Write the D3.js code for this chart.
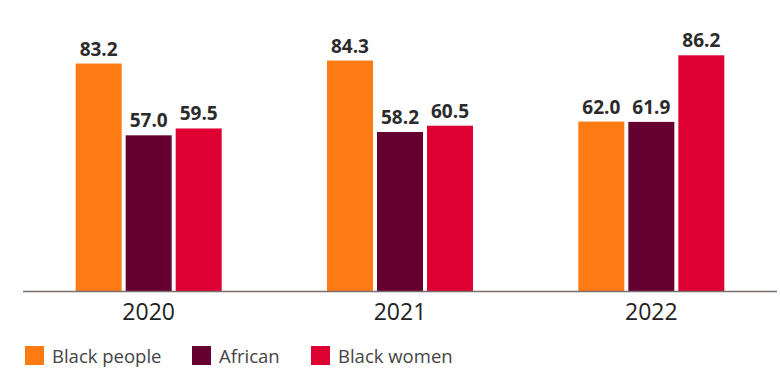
<!DOCTYPE html>
<html>
<head>
<meta charset="utf-8">
<script src="https://cdn.jsdelivr.net/npm/d3@7"></script>
<style>
  html, body { margin: 0; padding: 0; background: #fff; }
  svg { display: block; font-family: "Open Sans", "Noto Sans", sans-serif; }
</style>
</head>
<body>
<svg id="chart" width="780" height="368"></svg>
<script>
// Years on the x axis and the three series shown in each group
const years = ["2020", "2021", "2022"];
const seriesNames = ["Black people", "African", "Black women"];
const blackPeople = [83.2, 84.3, 62.0];
const african = [57.0, 58.2, 61.9];
const blackWomen = [59.5, 60.5, 86.2];
const colors = ["#fe7a12", "#650030", "#de0032"];

const seriesValues = [blackPeople, african, blackWomen];
const rows = years.map((y, i) => ({
  year: y,
  values: seriesNames.map((name, s) => ({ name, s, value: seriesValues[s][i] }))
}));

const svg = d3.select("#chart");
const baseY = 291.5;

const x0 = d3.scaleBand()
  .domain(years)
  .range([23, 777])
  .paddingInner(0.419)
  .paddingOuter(0.2095);

const x1 = d3.scaleBand()
  .domain(seriesNames)
  .range([0, x0.bandwidth()])
  .paddingInner(0.08)
  .paddingOuter(0);

const y = d3.scaleLinear()
  .domain([0, 100])
  .range([baseY, baseY - 274]);

const groups = svg.append("g")
  .selectAll("g")
  .data(rows)
  .join("g")
  .attr("transform", d => `translate(${x0(d.year)},0)`);

groups.selectAll("rect")
  .data(d => d.values)
  .join("rect")
  .attr("x", d => x1(d.name))
  .attr("y", d => y(d.value))
  .attr("width", x1.bandwidth())
  .attr("height", d => y(0) - y(d.value))
  .attr("fill", d => colors[d.s]);

groups.selectAll("text")
  .data(d => d.values)
  .join("text")
  .attr("x", d => x1(d.name) + x1.bandwidth() / 2)
  .attr("y", d => y(d.value) - 8)
  .attr("text-anchor", "middle")
  .attr("font-size", 19)
  .attr("font-weight", 700)
  .attr("fill", "#2b2b2b")
  .text(d => d.value.toFixed(1));

// x axis: a plain baseline with year labels underneath
const xAxis = d3.axisBottom(x0).tickSize(0).tickPadding(12);
const axisG = svg.append("g")
  .attr("transform", `translate(0,${baseY})`)
  .call(xAxis);
axisG.select(".domain")
  .attr("d", "M23,0H777")
  .attr("stroke", "#7a6e6e")
  .attr("stroke-width", 1.5);
axisG.selectAll(".tick text")
  .attr("font-size", 23)
  .attr("fill", "#222")
  .attr("font-family", "'Open Sans', sans-serif");

// legend along the bottom
const legendX = [25, 192, 311];
const legend = svg.append("g")
  .selectAll("g")
  .data(seriesNames)
  .join("g")
  .attr("transform", (d, i) => `translate(${legendX[i]},346)`);
legend.append("rect")
  .attr("width", 19)
  .attr("height", 19)
  .attr("fill", (d, i) => colors[i]);
legend.append("text")
  .attr("x", 27)
  .attr("y", 16.5)
  .attr("font-size", 18.5)
  .attr("fill", "#444")
  .text(d => d);
</script>
</body>
</html>
